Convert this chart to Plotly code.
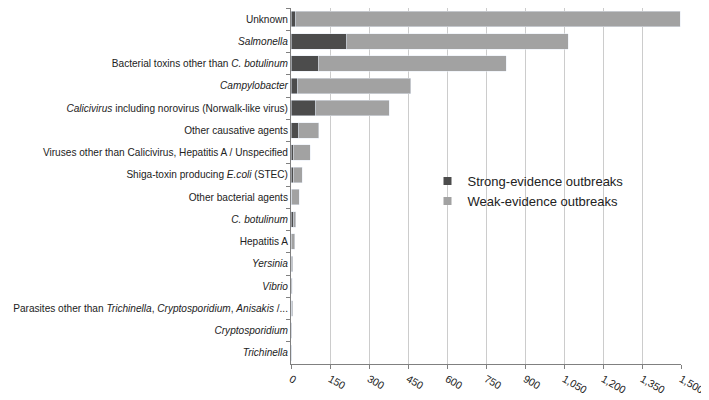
import plotly.graph_objects as go

categories = [
    "Unknown",
    "<i>Salmonella</i>",
    "Bacterial toxins other than <i>C. botulinum</i>",
    "<i>Campylobacter</i>",
    "<i>Calicivirus</i> including norovirus (Norwalk-like virus)",
    "Other causative agents",
    "Viruses other than Calicivirus, Hepatitis A / Unspecified",
    "Shiga-toxin producing <i>E.coli</i> (STEC)",
    "Other bacterial agents",
    "<i>C. botulinum</i>",
    "Hepatitis A",
    "<i>Yersinia</i>",
    "<i>Vibrio</i>",
    "Parasites other than <i>Trichinella</i>, <i>Cryptosporidium</i>, <i>Anisakis</i> /...",
    "<i>Cryptosporidium</i>",
    "<i>Trichinella</i>",
]
strong = [18, 215, 105, 26, 95, 30, 9, 8, 2, 11, 1, 1, 1, 2, 1, 2]
weak = [1480, 851, 723, 434, 283, 76, 65, 35, 29, 7, 14, 5, 4, 4, 2, 1]

x_ticks = [0, 150, 300, 450, 600, 750, 900, 1050, 1200, 1350, 1500]

STRONG_C = "#4c4c4c"
WEAK_C = "#a2a2a2"
FONT = "Liberation Sans"

fig = go.Figure()
fig.add_trace(go.Bar(y=categories, x=strong, orientation="h", marker_color=STRONG_C,
                     name="Strong-evidence outbreaks", showlegend=False))
fig.add_trace(go.Bar(y=categories, x=weak, orientation="h", marker_color=WEAK_C,
                     name="Weak-evidence outbreaks", showlegend=False))
fig.add_trace(go.Scatter(x=[None], y=[None], mode="markers", name="Strong-evidence outbreaks",
                         marker=dict(symbol="square", size=8, color=STRONG_C)))
fig.add_trace(go.Scatter(x=[None], y=[None], mode="markers", name="Weak-evidence outbreaks",
                         marker=dict(symbol="square", size=8, color=WEAK_C)))

fig.update_layout(
    width=701, height=392,
    barmode="stack", bargap=0.3,
    margin=dict(l=283, r=28, t=0, b=36),
    plot_bgcolor="white", paper_bgcolor="white",
    font=dict(family=FONT, size=11, color="#222"),
    legend=dict(x=0.35, y=0.556, xanchor="left", yanchor="top",
                font=dict(size=13, color="#222"), bgcolor="rgba(0,0,0,0)",
                itemwidth=30, tracegroupgap=0, traceorder="normal"),
)
fig.update_xaxes(
    range=[0, 1500], tickvals=x_ticks, tickformat=",", tickangle=30,
    showgrid=True, gridcolor="#cccccc", gridwidth=1,
    showline=True, linecolor="#808080", linewidth=1,
    ticks="outside", ticklen=4, tickcolor="#808080",
    zeroline=False, tickfont=dict(size=10.5), automargin=False,
)
fig.update_yaxes(
    categoryorder="array", categoryarray=categories, autorange="reversed",
    showline=True, linecolor="#808080", linewidth=1,
    ticks="outside", ticklen=4, tickcolor="#808080", tickson="boundaries",
    showgrid=False, tickfont=dict(size=10.1), automargin=False,
)
fig.write_html("out.html")
